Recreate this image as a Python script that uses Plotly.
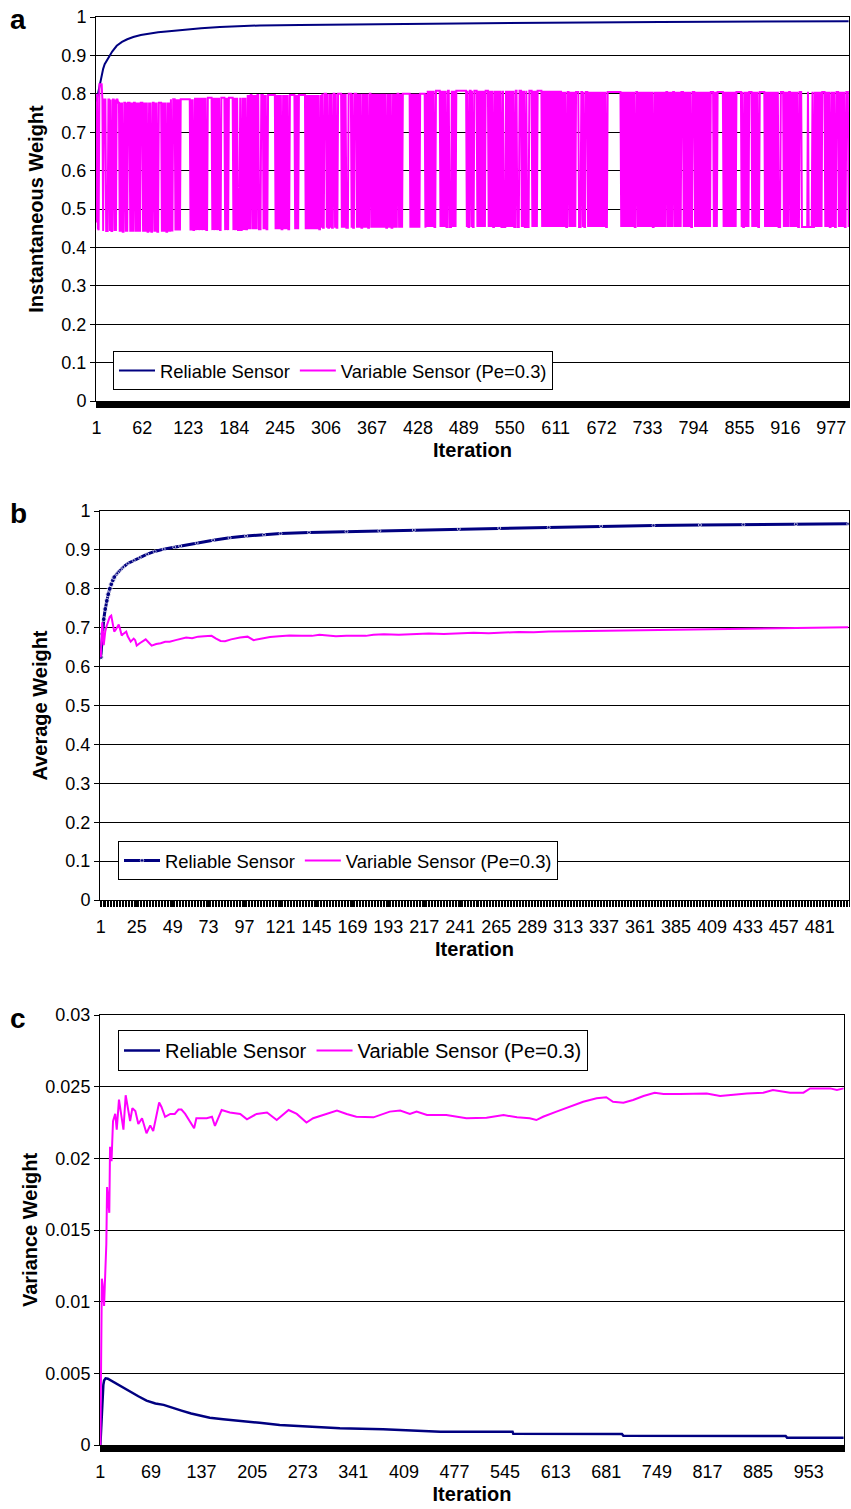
import plotly.graph_objects as go

W, H = 851, 1509
FONT = "Liberation Sans, Arial, sans-serif"
NAVY = "#000080"
MAGENTA = "#FF00FF"

# ---------------- (a) Instantaneous weight ----------------
reliable_a_iter = [1, 2, 3, 4, 5, 6, 8, 10, 12, 15, 18, 22, 28, 35, 42, 50, 60, 72, 83, 94,
                   108, 121, 140, 165, 190, 218, 271, 320, 400, 480, 560, 650, 750, 850, 1000]
reliable_a_weight = [0.78, 0.79, 0.80, 0.81, 0.82, 0.83, 0.85, 0.865, 0.877, 0.888, 0.898, 0.91,
                     0.925, 0.935, 0.942, 0.948, 0.953, 0.957, 0.960, 0.962, 0.965, 0.968, 0.971,
                     0.974, 0.976, 0.978, 0.979, 0.980, 0.982, 0.984, 0.985, 0.986, 0.987, 0.988,
                     0.989]

# variable sensor state per iteration: 1 = good reading (high weight), 0 = faulty reading (low weight)
variable_a_state = (
    "0100111110" "1110001101" "0011010111" "1010100110" "1011101010"
    "1101010101" "1101010100" "1010011010" "1001111010" "1010010101"
    "0011101010" "1011111111" "1111101010" "0101010101" "0101010011"
    "1111010101" "0101001111" "1010101111" "1101010100" "0100101010"
    "0101011010" "1010110001" "1101010011" "1111111101" "0101010010"
    "1010100111" "1111010101" "1111111101" "0101010101" "0101010010"
    "1001110100" "1010011010" "0111110101" "0100011110" "1001110101"
    "0100101010" "1001101010" "1010101010" "1010100101" "0100101010"
    "1101010111" "1111111010" "1010101010" "1111111010" "1010101010"
    "0111111010" "1010100110" "0010101011" "1111111111" "1101001101"
    "0011110101" "0101010111" "1010101001" "0101010100" "1000101010"
    "1010100110" "0011101010" "0100011110" "1010101111" "1101010101"
    "0101010101" "0101010101" "0101001101" "0101010111" "1000110100"
    "1110101010" "1010101010" "1010101001" "1111111111" "1111111010"
    "1010101010" "1010100110" "1010101010" "1010101010" "0101010101"
    "0101010110" "1010101101" "0101010111" "0101010101" "0011101010"
    "1010101010" "1010101111" "0101011111" "1110101010" "1010101010"
    "1111111010" "0101010111" "1010101010" "0111111101" "0101010101"
    "0101010001" "1110101010" "1101010101" "0100111000" "0000010000"
    "0100101010" "1010111101" "0101001010" "1001110101" "0101001110"
)
# weight levels of the variable sensor, by iteration band
variable_a_band_start = [1, 2, 4, 9, 30, 100, 130, 200, 300, 440, 620]
variable_a_high = [0.80, 0.80, 0.825, 0.785, 0.777, 0.786, 0.79, 0.797, 0.80, 0.808, 0.805]
variable_a_low = [0.465, 0.45, 0.445, 0.443, 0.441, 0.444, 0.445, 0.447, 0.451, 0.453, 0.453]

tick_a = [1, 62, 123, 184, 245, 306, 367, 428, 489, 550, 611, 672, 733, 794, 855, 916, 977]

# ---------------- (b) Average weight ----------------
reliable_b_iter = [1, 2, 3, 4, 5, 6, 7, 8, 9, 10, 12, 14, 16, 19, 23, 27, 32, 37, 43, 50, 54,
                   65, 76, 87, 98, 110, 121, 140, 165, 187, 210, 240, 267, 300, 335, 370, 401,
                   430, 465, 500]
reliable_b_weight = [0.624, 0.684, 0.722, 0.748, 0.769, 0.786, 0.80, 0.812, 0.822, 0.83, 0.84,
                     0.849, 0.856, 0.865, 0.873, 0.881, 0.889, 0.896, 0.902, 0.907, 0.91, 0.918,
                     0.925, 0.931, 0.936, 0.939, 0.942, 0.945, 0.947, 0.949, 0.951, 0.954, 0.956,
                     0.958, 0.961, 0.963, 0.964, 0.965, 0.966, 0.967]

variable_b_iter = [1, 2, 3, 4, 5, 6, 7, 8, 9, 10, 11, 12, 13, 14, 15, 16, 17, 18, 19, 20, 21,
                   22, 23, 24, 25, 27, 29, 31, 33, 35, 38, 41, 44, 47, 51, 55, 58, 62, 66, 70,
                   75, 78, 81, 84, 88, 94, 99, 103, 108, 114, 120, 127, 135, 142, 147, 153, 158,
                   165, 172, 178, 183, 190, 200, 210, 220, 230, 240, 250, 260, 267, 280, 290,
                   300, 315, 334, 350, 365, 380, 401, 420, 440, 460, 480, 500]
variable_b_weight = [0.624, 0.714, 0.655, 0.690, 0.705, 0.715, 0.728, 0.731, 0.705, 0.690, 0.695,
                     0.700, 0.708, 0.695, 0.680, 0.684, 0.688, 0.690, 0.678, 0.670, 0.664, 0.668,
                     0.672, 0.668, 0.654, 0.660, 0.665, 0.670, 0.662, 0.654, 0.658, 0.660, 0.664,
                     0.664, 0.668, 0.672, 0.675, 0.673, 0.677, 0.678, 0.679, 0.672, 0.666, 0.665,
                     0.670, 0.675, 0.677, 0.668, 0.672, 0.676, 0.678, 0.680, 0.679, 0.679, 0.682,
                     0.680, 0.678, 0.679, 0.680, 0.679, 0.682, 0.683, 0.682, 0.684, 0.685, 0.684,
                     0.686, 0.687, 0.686, 0.687, 0.689, 0.688, 0.690, 0.691, 0.692, 0.694, 0.695,
                     0.696, 0.697, 0.698, 0.698, 0.699, 0.700, 0.701]

tick_b = [1, 25, 49, 73, 97, 121, 145, 169, 193, 217, 241, 265, 289, 313, 337, 361, 385, 409,
          433, 457, 481]

# ---------------- (c) Variance of weight ----------------
reliable_c_iter = [1, 2, 3, 4, 5, 6, 8, 11, 15, 20, 27, 34, 41, 52, 63, 75, 86, 97, 110, 123,
                   148, 166, 188, 215, 242, 278, 323, 381, 457, 458, 555, 556, 702, 704, 922, 924,
                   1000]
reliable_c_var = [0.0, 0.0013, 0.0027, 0.0036, 0.0042, 0.0045, 0.00465, 0.00462, 0.0045, 0.0043,
                  0.0041, 0.0039, 0.0037, 0.0034, 0.0031, 0.0029, 0.0028, 0.0026, 0.0024, 0.0022,
                  0.0019, 0.0018, 0.0017, 0.00155, 0.0014, 0.00128, 0.00116, 0.0011, 0.00098,
                  0.00093, 0.00093, 0.00078, 0.00077, 0.00064, 0.00063, 0.00051, 0.0005]

variable_c_iter = [1, 2, 3, 4, 5, 6, 7, 8, 9, 10, 11, 12, 13, 14, 15, 16, 18, 21, 23, 26, 28,
                   32, 35, 39, 41, 44, 48, 52, 57, 63, 68, 72, 78, 80, 83, 88, 95, 101, 106, 110,
                   115, 122, 127, 130, 144, 151, 155, 164, 175, 189, 198, 211, 225, 238, 254, 265,
                   278, 287, 305, 319, 332, 345, 368, 390, 404, 417, 426, 440, 466, 493, 520, 543,
                   561, 578, 587, 596, 614, 632, 650, 668, 681, 690, 704, 717, 731, 746, 758, 780,
                   802, 816, 834, 847, 870, 892, 905, 928, 946, 955, 982, 991, 1000]
variable_c_var = [0.0, 0.0060, 0.0116, 0.0112, 0.0098, 0.0097, 0.0112, 0.0125, 0.0140, 0.0180,
                  0.0175, 0.0165, 0.0162, 0.0208, 0.0205, 0.0198, 0.0226, 0.0231, 0.0220, 0.0241,
                  0.0233, 0.0220, 0.0244, 0.0233, 0.0226, 0.0235, 0.0233, 0.0224, 0.0228, 0.02175,
                  0.0223, 0.0219, 0.02337, 0.0239, 0.0236, 0.0229, 0.0231, 0.0231, 0.0234, 0.0234,
                  0.0231, 0.02256, 0.0221, 0.0228, 0.0228, 0.0229, 0.02226, 0.02337, 0.0232,
                  0.0231, 0.02272, 0.0231, 0.0232, 0.02268, 0.02337, 0.0231, 0.0225, 0.0228,
                  0.0231, 0.02333, 0.02309, 0.0229, 0.02286, 0.02326, 0.02333, 0.02309, 0.02326,
                  0.02302, 0.02302, 0.02279, 0.02284, 0.02302, 0.02286, 0.02279, 0.02267, 0.0229,
                  0.02326, 0.02361, 0.02395, 0.02419, 0.02426, 0.02395, 0.02388, 0.02407, 0.02435,
                  0.02458, 0.02449, 0.02449, 0.02453, 0.02453, 0.02435, 0.02442, 0.02453, 0.02458,
                  0.02477, 0.02458, 0.02458, 0.02488, 0.02488, 0.02477, 0.02488]

tick_c = [1, 69, 137, 205, 273, 341, 409, 477, 545, 613, 681, 749, 817, 885, 953]


def band_value(i, starts, levels):
    idx = 0
    for k, s in enumerate(starts):
        if i >= s:
            idx = k
    return levels[idx]


variable_a_iter = list(range(1, len(variable_a_state) + 1))
variable_a_weight = [
    band_value(i, variable_a_band_start, variable_a_high if s == "1" else variable_a_low)
    for i, s in zip(variable_a_iter, variable_a_state)
]

# point markers stand out only on the first iterations, later they merge into the line
reliable_b_marker = [5 if i <= 10 else 3 for i in reliable_b_iter]

fig = go.Figure()

# panel a
fig.add_trace(go.Scatter(x=reliable_a_iter, y=reliable_a_weight, mode="lines",
                         line=dict(color=NAVY, width=2), name="Reliable Sensor",
                         xaxis="x", yaxis="y", legend="legend"))
fig.add_trace(go.Scatter(x=variable_a_iter, y=variable_a_weight, mode="lines",
                         line=dict(color=MAGENTA, width=2, simplify=False),
                         name="Variable Sensor (Pe=0.3)", xaxis="x", yaxis="y", legend="legend"))
# panel b
fig.add_trace(go.Scatter(x=reliable_b_iter, y=reliable_b_weight, mode="lines+markers",
                         line=dict(color=NAVY, width=3),
                         marker=dict(color=NAVY, size=reliable_b_marker),
                         name="Reliable Sensor", xaxis="x2", yaxis="y2", legend="legend2"))
fig.add_trace(go.Scatter(x=variable_b_iter, y=variable_b_weight, mode="lines",
                         line=dict(color=MAGENTA, width=2), name="Variable Sensor (Pe=0.3)",
                         xaxis="x2", yaxis="y2", legend="legend2"))
# panel c
fig.add_trace(go.Scatter(x=reliable_c_iter, y=reliable_c_var, mode="lines",
                         line=dict(color=NAVY, width=2.5), name="Reliable Sensor",
                         xaxis="x3", yaxis="y3", legend="legend3"))
fig.add_trace(go.Scatter(x=variable_c_iter, y=variable_c_var, mode="lines",
                         line=dict(color=MAGENTA, width=2), name="Variable Sensor (Pe=0.3)",
                         xaxis="x3", yaxis="y3", legend="legend3"))


def px_x(p):
    return p / W


def px_y(p):
    return 1 - p / H


def x_axis(left, right, n, ticks, anchor, size=18):
    return dict(
        domain=[px_x(left), px_x(right)], anchor=anchor, range=[0.5, n + 0.5],
        tickmode="array", tickvals=ticks, ticktext=[str(t) for t in ticks],
        ticks="outside", ticklen=6, tickwidth=1, tickcolor="black", ticklabelstandoff=4,
        minor=dict(ticks="outside", ticklen=6, tickwidth=1, tickcolor="black",
                   tickmode="linear", tick0=0.5, dtick=1, showgrid=False),
        showline=True, linecolor="black", linewidth=1, mirror=True,
        showgrid=False, zeroline=False, automargin=False, fixedrange=True,
        tickfont=dict(family=FONT, size=size, color="black"),
        title=dict(text="Iteration", standoff=6,
                   font=dict(family=FONT, size=20, color="black", weight="bold")),
    )


def y_axis(top, bottom, rng, dtick, title, anchor, standoff, size=18):
    return dict(
        domain=[px_y(bottom), px_y(top)], anchor=anchor, range=rng, dtick=dtick, tick0=0,
        ticks="outside", ticklen=5, tickwidth=1, tickcolor="black",
        showline=True, linecolor="black", linewidth=1, mirror=True,
        showgrid=True, gridcolor="black", gridwidth=1, zeroline=False,
        automargin=False, fixedrange=True,
        tickfont=dict(family=FONT, size=size, color="black"),
        title=dict(text=title, standoff=standoff,
                   font=dict(family=FONT, size=20, color="black", weight="bold")),
    )


def legend_box(left, top, size):
    return dict(x=px_x(left), y=px_y(top), xanchor="left", yanchor="top", orientation="h",
                bgcolor="white", bordercolor="black", borderwidth=1, itemwidth=36,
                font=dict(family=FONT, size=size, color="black"))


def panel_letter(letter, cx, cy):
    return dict(text="<b>%s</b>" % letter, x=px_x(cx), y=px_y(cy), xref="paper", yref="paper",
                xanchor="center", yanchor="middle", showarrow=False,
                font=dict(family=FONT, size=28, color="black"))


fig.update_layout(
    width=W, height=H, autosize=False,
    margin=dict(l=0, r=0, t=0, b=0),
    paper_bgcolor="white", plot_bgcolor="white",
    xaxis=x_axis(96, 849, 1000, tick_a, "y"),
    yaxis=y_axis(17, 401, [0, 1], 0.1, "Instantaneous Weight", "x", 12),
    xaxis2=x_axis(100, 849, 500, tick_b, "y2"),
    yaxis2=y_axis(511, 900, [0, 1], 0.1, "Average Weight", "x2", 12),
    xaxis3=x_axis(100, 844, 1000, tick_c, "y3"),
    yaxis3=y_axis(1015, 1445, [0, 0.03], 0.005, "Variance Weight", "x3", 2),
    legend=legend_box(113, 351, 18.4),
    legend2=legend_box(118, 841, 18.4),
    legend3=legend_box(118, 1030, 20),
    annotations=[panel_letter("a", 18, 19), panel_letter("b", 18, 513),
                 panel_letter("c", 18, 1019)],
)

fig.write_html("out.html")
